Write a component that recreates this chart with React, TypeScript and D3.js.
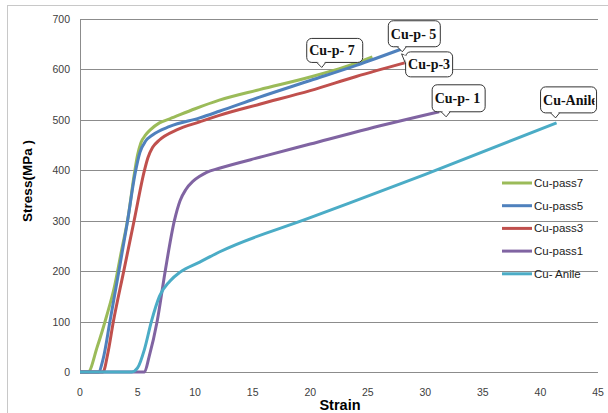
import React from "react";
import * as d3 from "d3";

// strain (%) / stress (MPa) points
const pass7Strain = [0, 0.7, 1.5, 2.3, 3.0, 3.6, 4.2, 4.7, 5.0, 5.3, 5.7, 6.1, 6.9, 7.8, 10, 12.1, 15.6, 20, 23, 25.4];
const pass7Stress = [0, 0, 50, 110, 170, 240, 310, 390, 430, 455, 470, 480, 494, 502, 522, 539, 560, 585, 605, 625];

const pass5Strain = [0, 1.6, 2.0, 2.6, 3.3, 4.1, 4.8, 5.2, 5.7, 6.3, 7.8, 10.4, 12.1, 15.6, 20, 24, 28];
const pass5Stress = [0, 0, 25, 100, 190, 295, 395, 435, 458, 470, 487, 504, 517, 545, 578, 608, 641];

const pass3Strain = [0, 2.0, 2.4, 2.9, 3.8, 4.7, 5.6, 5.9, 6.3, 6.9, 8.4, 10.4, 12.1, 15.6, 20, 24, 28.2];
const pass3Stress = [0, 0, 35, 100, 200, 300, 400, 425, 445, 460, 480, 496, 509, 531, 558, 586, 613];

const pass1Strain = [0, 5.6, 6.0, 6.7, 7.4, 8.2, 8.7, 9.2, 9.8, 10.4, 11, 12.1, 16, 20, 25, 31.2];
const pass1Stress = [0, 0, 30, 100, 200, 300, 340, 362, 378, 388, 396, 404, 428, 452, 482, 516];

const anileStrain = [0, 4.5, 5.0, 5.6, 6.2, 6.9, 7.8, 8.7, 10.4, 12.1, 20, 30, 41.4];
const anileStress = [0, 0, 8, 45, 100, 150, 180, 198, 218, 238, 306, 392, 494];

const legendNames = ["Cu-pass7", "Cu-pass5", "Cu-pass3", "Cu-pass1", "Cu- Anile"];
const seriesColors = ["#9bbb59", "#4f81bd", "#c0504d", "#8064a2", "#4bacc6"];

const calloutText = ["Cu-p- 7", "Cu-p- 5", "Cu-p-3", "Cu-p- 1", "Cu-Anile"];
const calloutStrain = [21, 28, 28.2, 31.2, 41.4];
const calloutStress = [600, 641, 613, 516, 494];

const xTicks = [0, 5, 10, 15, 20, 25, 30, 35, 40, 45];
const yTicks = [0, 100, 200, 300, 400, 500, 600, 700];

// box placement relative to anchor (px)
const calloutLayout = [
  { dx: -15, dy: -31, w: 56, h: 24, side: "bottom", p: 10 },
  { dx: -14, dy: -28, w: 52, h: 26, side: "bottom", p: 9 },
  { dx: 1, dy: -11, w: 47, h: 25, side: "left", p: 4 },
  { dx: -7, dy: -27, w: 53, h: 27, side: "bottom", p: 9 },
  { dx: -16, dy: -36, w: 56, h: 26, side: "bottom", p: 10 },
];

const W = 608;
const H = 413;
const margin = { left: 80, right: 10, top: 19, bottom: 41 };

export default function App() {
  const x = d3.scaleLinear().domain([0, 45]).range([margin.left, W - margin.right]);
  const y = d3.scaleLinear().domain([0, 700]).range([H - margin.bottom, margin.top]);

  const series = [
    [pass7Strain, pass7Stress],
    [pass5Strain, pass5Stress],
    [pass3Strain, pass3Stress],
    [pass1Strain, pass1Stress],
    [anileStrain, anileStress],
  ];

  const line = d3
    .line<[number, number]>()
    .x((d) => x(d[0]))
    .y((d) => y(d[1]))
    .curve(d3.curveMonotoneX);

  const tickFont = "'Liberation Sans', Arial, sans-serif";

  return (
    <svg width={W} height={H} style={{ position: "absolute", left: 0, top: 0, background: "#fff" }}>
      <rect x={7.5} y={5.5} width={W} height={H} fill="#fff" stroke="#c8c8c8" />
      <defs>
        {calloutLayout.map((c, i) => (
          <clipPath id={`cl${i}`} key={i}>
            <rect
              x={x(calloutStrain[i]) + c.dx}
              y={y(calloutStress[i]) + c.dy}
              width={c.w - 2}
              height={c.h}
            />
          </clipPath>
        ))}
      </defs>

      {yTicks.map((t) => (
        <g key={t}>
          <line x1={x(0)} x2={x(45)} y1={Math.round(y(t)) + 0.5} y2={Math.round(y(t)) + 0.5} stroke="#8c8c8c" />
          <text x={70} y={y(t) + 4} textAnchor="end" fontFamily={tickFont} fontSize={10.5} fill="#404040">
            {t}
          </text>
        </g>
      ))}
      <line x1={x(0) + 0.5} x2={x(0) + 0.5} y1={y(700)} y2={y(0)} stroke="#8c8c8c" />
      {xTicks.map((t) => (
        <text key={t} x={x(t)} y={396} textAnchor="middle" fontFamily={tickFont} fontSize={10.5} fill="#404040">
          {t}
        </text>
      ))}

      <text x={340} y={410} textAnchor="middle" fontFamily={tickFont} fontWeight="bold" fontSize={14.5} fill="#000">
        Strain
      </text>
      <text
        transform={`translate(32,181) rotate(-90)`}
        textAnchor="middle"
        fontFamily={tickFont}
        fontWeight="bold"
        fontSize={13.5}
        fill="#000"
      >
        Stress(MPa )
      </text>

      {series.map(([sx, sy], i) => (
        <path
          key={i}
          d={line(sx.map((v, j) => [v, sy[j]] as [number, number])) || ""}
          fill="none"
          stroke={seriesColors[i]}
          strokeWidth={3}
          strokeLinejoin="round"
        />
      ))}

      {legendNames.map((n, i) => {
        const ly = 183 + i * 22.7;
        return (
          <g key={n}>
            <line x1={502} x2={532} y1={ly} y2={ly} stroke={seriesColors[i]} strokeWidth={3} />
            <text x={534} y={ly + 4} fontFamily={tickFont} fontSize={11.5} fill="#222">
              {n}
            </text>
          </g>
        );
      })}

      {calloutLayout.map((c, i) => {
        const ax = x(calloutStrain[i]);
        const ay = y(calloutStress[i]);
        const bx = ax + c.dx;
        const by = ay + c.dy;
        const bottom = by + c.h;
        let pointer: string;
        let cover: string;
        if (c.side === "bottom") {
          const p1 = bx + c.p;
          const p2 = p1 + 9;
          const tx = p1 + 5;
          pointer = `${p1},${bottom} ${tx},${bottom + 5} ${p2},${bottom}`;
          cover = `${p1 + 0.5},${bottom - 1.5} ${tx},${bottom + 4} ${p2 - 0.5},${bottom - 1.5}`;
        } else {
          const p1 = by + c.p;
          const p2 = p1 + 8;
          pointer = `${bx},${p1} ${bx - 4},${p1 - 2} ${bx},${p2}`;
          cover = `${bx + 1.5},${p1 + 0.5} ${bx - 3},${p1 - 1} ${bx + 1.5},${p2 - 0.5}`;
        }
        return (
          <g key={i}>
            <rect x={bx} y={by} width={c.w} height={c.h} rx={5} fill="#fff" stroke="#333" strokeWidth={1} />
            <polyline points={pointer} fill="#fff" stroke="#333" strokeWidth={1} />
            <polygon points={cover} fill="#fff" />
            <g clipPath={`url(#cl${i})`}>
              <text
                x={bx + 2.5}
                y={by + c.h / 2 + 5}
                fontFamily="'Liberation Serif', 'Times New Roman', serif"
                fontWeight="bold"
                fontSize={14}
                fill="#111"
              >
                {calloutText[i]}
              </text>
            </g>
          </g>
        );
      })}
    </svg>
  );
}
